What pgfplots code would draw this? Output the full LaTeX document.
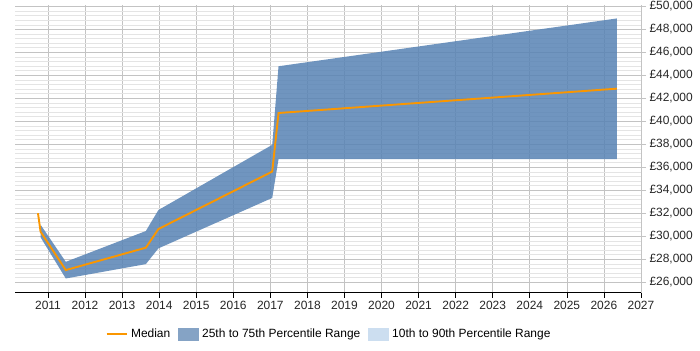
\documentclass[border=0pt]{standalone}
\usepackage{fontspec}
\setmainfont{Liberation Sans}
\usepackage{pgfplots}
\pgfplotsset{compat=1.18}

\definecolor{median}{RGB}{250,150,0}
\definecolor{iqr}{RGB}{87,131,180}
\definecolor{iqrkey}{RGB}{133,163,197}
\definecolor{decile}{RGB}{204,222,240}
\definecolor{majgrid}{RGB}{195,195,195}
\definecolor{mingrid}{RGB}{228,228,228}

\begin{document}
\begin{tikzpicture}[x=1bp,y=1bp]
\useasboundingbox (0,0) rectangle (700,350);
\begin{axis}[
  at={(15bp,57.5bp)}, anchor=south west,
  scale only axis, width=626bp, height=287.5bp,
  xmin=2010.11, xmax=2027, ymin=25100, ymax=50120,
  axis x line*=bottom, axis y line*=right,
  y axis line style={draw=none},
  x axis line style={black, line width=0.8pt, -},
  xtick={2011,...,2027},
  ytick={26000,28000,...,50000},
  minor y tick num=4,
  scaled y ticks=false,
  grid=both,
  major grid style={majgrid, line width=0.6pt},
  minor grid style={mingrid, line width=0.5pt},
  xtick style={black, line width=0.6pt},
  ytick style={majgrid, line width=0.5pt},
  tick align=outside,
  major tick length=5bp,
  minor tick length=0bp,
  /pgf/number format/assume math mode=true,
  xticklabel={\pgfmathprintnumber[1000 sep={}]{\tick}},
  yticklabel={£\pgfmathprintnumber[fixed, precision=0, 1000 sep={,}]{\tick}},
  tick label style={font=\fontsize{12}{14}\selectfont, text=black!85},
  legend columns=3,
  legend style={at={(0.5016,-0.144)}, anchor=center, draw=none, fill=none,
    font=\fontsize{12}{14}\selectfont, column sep=6bp,
    /tikz/every odd column/.append style={column sep=1.5bp}},
]
% legend keys
\addlegendimage{legend image code/.code={\draw[median, line width=2pt] (0bp,0bp) -- (20bp,0bp);}}
\addlegendentry{Median}
\addlegendimage{legend image code/.code={\fill[iqrkey] (0bp,-6bp) rectangle (20bp,6bp);}}
\addlegendentry{25th to 75th Percentile Range}
\addlegendimage{legend image code/.code={\fill[decile] (0bp,-6bp) rectangle (20bp,6bp);}}
\addlegendentry{10th to 90th Percentile Range}

% 25th to 75th percentile band: upper edge, then lower edge back
\addplot[fill=iqr, fill opacity=0.85, draw=none, forget plot] coordinates {
  (2010.80,31000) (2011.48,27770) (2013.64,30450) (2013.98,32280)
  (2017.05,37950) (2017.22,44790) (2026.35,48950)
  (2026.35,36700) (2017.22,36700) (2017.05,33330)
  (2013.98,28940) (2013.64,27570) (2011.48,26320) (2010.80,29900)
} -- cycle;

% median salary
\addplot[median, line width=1.9pt, forget plot] coordinates {
  (2010.73,32000) (2010.80,30390) (2011.48,27050) (2013.64,29000)
  (2013.98,30625) (2017.05,35625) (2017.22,40720) (2026.35,42840)
};
\end{axis}
\end{tikzpicture}
\end{document}
